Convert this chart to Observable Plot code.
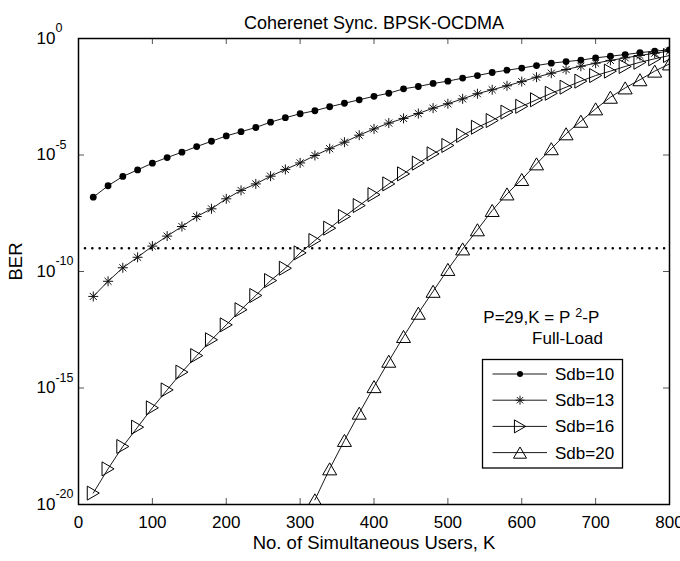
<!DOCTYPE html>
<html><head><meta charset="utf-8">
<script src="https://cdn.jsdelivr.net/npm/d3@7"></script>
<script src="https://cdn.jsdelivr.net/npm/@observablehq/plot@0.6"></script>
<style>body{margin:0;background:#fff;}</style>
</head><body><div id="chart"></div>
<script>
// ---------- data ----------
const usersK = [20,40,60,80,100,120,140,160,180,200,220,240,260,280,300,320,340,360,380,400,420,440,460,480,500,520,540,560,580,600,620,640,660,680,700,720,740,760,780,800];
const usersKSdb20 = [320,340,360,380,400,420,440,460,480,500,520,540,560,580,600,620,640,660,680,700,720,740,760,780,800];
// log10(BER)
const log10BerSdb10 = [-6.81,-6.32,-5.92,-5.64,-5.35,-5.11,-4.88,-4.64,-4.41,-4.18,-4.00,-3.82,-3.59,-3.40,-3.23,-3.10,-2.93,-2.78,-2.63,-2.48,-2.35,-2.16,-2.06,-1.93,-1.83,-1.70,-1.59,-1.46,-1.36,-1.27,-1.16,-1.06,-0.99,-0.93,-0.83,-0.76,-0.69,-0.61,-0.54,-0.49];
const log10BerSdb13 = [-11.07,-10.42,-9.84,-9.39,-8.91,-8.48,-8.07,-7.64,-7.31,-6.88,-6.52,-6.24,-5.91,-5.62,-5.34,-5.02,-4.73,-4.45,-4.15,-3.88,-3.63,-3.43,-3.22,-2.99,-2.80,-2.59,-2.37,-2.20,-2.03,-1.85,-1.66,-1.49,-1.33,-1.19,-1.06,-0.94,-0.83,-0.73,-0.63,-0.54];
const log10BerSdb16 = [-19.51,-18.47,-17.51,-16.68,-15.85,-15.08,-14.32,-13.61,-12.93,-12.29,-11.64,-11.03,-10.39,-9.86,-9.20,-8.67,-8.14,-7.64,-7.17,-6.70,-6.24,-5.81,-5.35,-4.95,-4.59,-4.16,-3.81,-3.52,-3.16,-2.91,-2.63,-2.35,-2.09,-1.83,-1.59,-1.40,-1.20,-1.02,-0.87,-0.73];
const log10BerSdb20 = [-19.8,-18.47,-17.25,-16.08,-14.94,-13.85,-12.79,-11.79,-10.85,-9.91,-9.03,-8.21,-7.38,-6.67,-6.05,-5.38,-4.73,-4.09,-3.55,-3.02,-2.52,-2.12,-1.77,-1.40,-1.09];
const seriesNames = ["Sdb=10","Sdb=13","Sdb=16","Sdb=20"];
const xTicks = [0,100,200,300,400,500,600,700,800];
const yTicks = [1,1e-5,1e-10,1e-15,1e-20];
const targetBer = [1e-9];
const titleText = "Coherenet Sync. BPSK-OCDMA";
const xLabelText = "No. of Simultaneous Users, K";
const yLabelText = "BER";
const noteLine1 = "P=29,K = P^{2}-P";
const noteLine2 = "Full-Load";

// ---------- table ----------
const rows = [];
function addSeries(name, ks, logs){ ks.forEach((k,i)=>rows.push({series:name, K:k, BER: Math.pow(10, logs[i])})); }
addSeries(seriesNames[0], usersK, log10BerSdb10);
addSeries(seriesNames[1], usersK, log10BerSdb13);
addSeries(seriesNames[2], usersK, log10BerSdb16);
addSeries(seriesNames[3], usersKSdb20, log10BerSdb20);

// ---------- marker symbols (MATLAB-like) ----------
const rad = s => Math.sqrt(s/Math.PI);
const symStar = {draw(c,s){const r=rad(s), d=r*Math.SQRT1_2; c.moveTo(-r,0);c.lineTo(r,0);c.moveTo(0,-r);c.lineTo(0,r);c.moveTo(-d,-d);c.lineTo(d,d);c.moveTo(-d,d);c.lineTo(d,-d);}};
const symTriRight = {draw(c,s){const r=rad(s); c.moveTo(r*0.86,0);c.lineTo(-r*0.86,-r);c.lineTo(-r*0.86,r);c.closePath();}};
const symTriUp = {draw(c,s){const r=rad(s); c.moveTo(0,-r*0.86);c.lineTo(r,r*0.86);c.lineTo(-r,r*0.86);c.closePath();}};
const markerSpec = {
  "Sdb=10": {symbol:"circle", r:3.4, fill:"#000", stroke:"none"},
  "Sdb=13": {symbol:symStar, r:5, fill:"none", stroke:"#111"},
  "Sdb=16": {symbol:symTriRight, r:7, fill:"none", stroke:"#000"},
  "Sdb=20": {symbol:symTriUp, r:7, fill:"none", stroke:"#000"}
};

// ---------- layout ----------
const W=680, H=561, mL=78, mR=11, mT=38, mB=57;
const innerW=W-mL-mR, innerH=H-mT-mB, tk=6;
const font = "'Liberation Sans', Arial, Helvetica, sans-serif";

const marks = [
  Plot.ruleY(targetBer, {stroke:"#000", strokeWidth:2.6, strokeDasharray:"0 7.33", strokeLinecap:"round", insetLeft:7}),
];
for (const name of seriesNames) {
  const data = rows.filter(d=>d.series===name);
  marks.push(Plot.line(data, {x:"K", y:"BER", stroke:"#000", strokeWidth:0.9, clip:true}));
}
for (const name of seriesNames) {
  const data = rows.filter(d=>d.series===name);
  const m = markerSpec[name];
  marks.push(Plot.dot(data, {x:"K", y:"BER", symbol:m.symbol, r:m.r, fill:m.fill, stroke:m.stroke, strokeWidth:1, clip:true}));
}
marks.push(
  Plot.tickX(xTicks, {x:d=>d, insetTop:innerH-tk, stroke:"#555"}),
  Plot.tickX(xTicks, {x:d=>d, insetBottom:innerH-tk, stroke:"#555"}),
  Plot.tickY(yTicks, {y:d=>d, insetRight:innerW-tk, stroke:"#555"}),
  Plot.tickY(yTicks, {y:d=>d, insetLeft:innerW-tk, stroke:"#555"}),
  Plot.frame({stroke:"#000", strokeWidth:1.5}),
  Plot.axisX(xTicks, {tickSize:0, tickPadding:11, label:null, fontSize:17}),
  Plot.axisY(yTicks, {tickSize:0, tickPadding:42, textAnchor:"start", label:null, fontSize:17,
    tickFormat: d => `10^{${Math.round(Math.log10(d))}}`}),
  Plot.text([titleText], {frameAnchor:"top", dy:-22, fontSize:18}),
  Plot.text([xLabelText], {frameAnchor:"bottom", dy:44, fontSize:18.5}),
  Plot.text([yLabelText], {frameAnchor:"left", rotate:-90, dx:-62, dy:9, fontSize:18.5}),
  Plot.text([noteLine1], {x:548, y:1.1e-12, textAnchor:"start", fontSize:17}),
  Plot.text([noteLine2], {x:614, y:1.3e-13, textAnchor:"start", fontSize:17})
);

const chart = Plot.plot({
  width:W, height:H, marginLeft:mL, marginRight:mR, marginTop:mT, marginBottom:mB,
  style:{fontFamily:font, fontSize:"17px", background:"#fff", color:"#000"},
  x:{domain:[0,800], label:null},
  y:{type:"log", domain:[1e-20,1], label:null},
  marks
});
document.getElementById("chart").appendChild(chart);

// ---------- superscripts ----------
const svg = d3.select(chart);
svg.selectAll("text").each(function(){
  const t = d3.select(this);
  const s = this.textContent;
  if (!s.includes("^{")) return;
  const isTick = s.startsWith("10^");
  const raise = isTick ? 11.5 : 5.5, supSize = isTick ? 12.5 : 12.5;
  const parts = s.split(/\^\{([^}]*)\}/);
  t.text(null);
  let shift = 0;
  parts.forEach((p,i)=>{
    if (p==="") return;
    const ts = t.append("tspan").text(p);
    if (i%2===1) { ts.attr("dy", -raise).attr("font-size", supSize); if(!isTick) ts.attr("dx", 5); shift = raise; }
    else if (shift) { ts.attr("dy", shift); shift = 0; }
  });
});

// ---------- legend ----------
const lgX = W-mR-187, lgY = 359, lgW = 140, lgH = 108.5, rowGap = 26.2;
const lg = svg.append("g").attr("font-family", font).attr("font-size", 17).attr("text-anchor","start");
lg.append("rect").attr("x",lgX+0.5).attr("y",lgY+0.5).attr("width",lgW).attr("height",lgH)
  .attr("fill","#fff").attr("stroke","#000").attr("stroke-width",1.3);
seriesNames.forEach((name,i)=>{
  const y = lgY + 15 + i*rowGap;
  const m = markerSpec[name];
  lg.append("line").attr("x1",lgX+10.5).attr("x2",lgX+65).attr("y1",y).attr("y2",y).attr("stroke","#000").attr("stroke-width",0.9);
  const sym = m.symbol==="circle" ? d3.symbolCircle : m.symbol;
  const sz = (name==="Sdb=10" ? 3 : name==="Sdb=13" ? 4.5 : 6.5);
  lg.append("path").attr("d", d3.symbol(sym, Math.PI*sz*sz)()).attr("transform",`translate(${lgX+38},${y})`)
    .attr("fill", m.fill).attr("stroke", m.stroke).attr("stroke-width",1);
  lg.append("text").attr("x",lgX+73).attr("y",y).attr("dy","0.35em").attr("text-anchor","start").text(name);
});
</script>
</body></html>
